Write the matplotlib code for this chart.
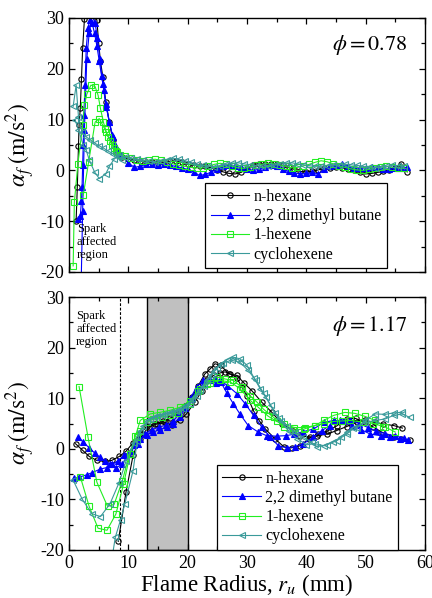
import matplotlib
matplotlib.use("Agg")
import matplotlib.pyplot as plt
from matplotlib.ticker import MultipleLocator

plt.rcParams["font.family"] = ["Liberation Serif", "DejaVu Serif"]
plt.rcParams["mathtext.fontset"] = "stix"
plt.rcParams["axes.unicode_minus"] = False

fuels = ["n-hexane", "2,2 dimethyl butane", "1-hexene", "cyclohexene"]
colors = ["black", "#0000ff", "#22ee22", "#3a9a9a"]
markers = ["o", "^", "s", "<"]
faces = ["none", "#0000ff", "none", "none"]

# ---- phi = 0.78 (top) ----
top_r_tail = [9, 10, 11, 12, 13, 14, 15, 16, 17, 18, 19, 20, 21, 22, 23, 24, 25, 26, 27, 28,
              29, 30, 31, 32, 33, 34, 35, 36, 37, 38, 39, 40, 41, 42, 43, 44, 45, 46, 47, 48,
              49, 50, 51, 52, 53, 54, 55, 56, 57]
top_r_tail_b = [9.5, 10.5, 11.5, 12.5, 13.5, 14.5, 15.5, 16.5, 17.5, 18.5, 19.5, 20.5, 21.5,
                22.5, 23.5, 24.5, 25.5, 26.5, 27.5, 28.5, 29.5, 30.5, 31.5, 32.5, 33.5, 34.5,
                35.5, 36.5, 37.5, 38.5, 39.5, 40.5, 41.5, 42.5, 43.5, 44.5, 45.5, 46.5, 47.5,
                48.5, 49.5, 50.5, 51.5, 52.5, 53.5, 54.5, 55.5, 56.5]

hex_top_r0 = [1.2, 1.4, 1.6, 1.7, 1.9, 2.1, 2.3, 2.6, 3.0, 3.4, 3.8, 4.3, 4.7, 5.0, 5.3, 5.7,
              6.2, 6.8, 7.4, 8.0, 8.5]
hex_top_a0 = [-9.9, -3.3, 4.9, 8.9, 12.2, 18.0, 24.0, 29.8, 33.0, 35.0, 33.0, 30.5, 29.6, 25.0,
              21.5, 18.4, 13.5, 9.5, 5.9, 4.0, 3.0]
hex_top_tail = [2.6, 2.2, 2.0, 1.8, 1.7, 1.6, 1.5, 1.6, 1.8, 1.9, 1.6, 1.2, 1.0, 0.9, 0.8, 0.5,
                0.1, -0.3, -0.6, -0.7, -0.4, 0.3, 1.0, 1.3, 1.2, 1.3, 1.3, 1.0, 0.6, 0.2, -0.2,
                -0.3, -0.2, 0.1, 0.4, 0.5, 0.6, 0.5, 0.3, 0.0, -0.4, -0.7, -0.6, -0.4, -0.2,
                0.0, 0.4, 1.3, -0.3]

dmb_top_r0 = [1.5, 1.9, 2.1, 2.2, 2.3, 2.4, 2.5, 2.7, 2.9, 3.2, 3.5, 3.9, 4.3, 4.7, 5.1, 5.5,
              5.9, 6.3, 6.8, 7.3, 7.8, 8.4]
dmb_top_a0 = [-9.6, -9.0, -6.0, -3.3, 1.0, 5.0, 10.9, 16.8, 24.0, 28.0, 29.7, 29.0, 27.0, 24.5,
              21.5, 18.5, 15.8, 12.5, 9.5, 7.0, 5.0, 3.5]
dmb_top_tail = [2.8, 1.5, 0.6, 0.8, 1.2, 1.2, 1.0, 1.2, 1.0, 0.8, 0.5, 0.2, -0.3, -1.0, -0.8,
                -0.3, 0.3, 0.8, 1.0, 0.8, 0.6, 0.3, 0.0, 0.2, 0.6, 1.0, 0.8, 0.3, -0.2, -0.5,
                -0.7, -0.6, -0.4, -0.7, 0.2, 0.8, 1.0, 1.3, 0.8, 0.5, 0.4, 0.5, 0.7, 0.6, 0.3,
                0.2, 0.4, 0.5, 0.6]
dmb_top_r1 = [2.0, 2.3, 2.6, 3.0, 3.4, 3.9, 4.4, 4.8, 5.2, 5.7, 6.2, 6.8, 7.4, 8.0]
dmb_top_a1 = [-25.0, -8.0, 8.0, 22.0, 27.0, 30.5, 29.0, 26.0, 22.0, 17.0, 13.0, 9.5, 6.5, 4.5]

hxe_top_r0 = [0.7, 0.9, 1.5, 2.3, 2.6, 3.0, 3.7, 4.4, 4.9, 5.3, 5.8, 6.3, 6.9, 7.5, 8.1, 8.6]
hxe_top_a0 = [-18.8, -6.3, 1.3, 8.9, 12.8, 15.0, 16.8, 16.5, 14.8, 12.2, 9.5, 7.5, 5.8, 4.5,
              3.6, 3.0]
hxe_top_tail = [2.8, 2.4, 2.0, 1.8, 2.0, 2.2, 2.0, 1.6, 1.3, 1.0, 0.8, 0.6, 0.5, 0.5, 0.8, 1.2,
                1.4, 1.2, 0.8, 0.5, 0.4, 0.7, 1.0, 1.2, 1.4, 1.3, 1.1, 0.8, 0.5, 0.6, 0.9, 1.2,
                1.6, 1.9, 1.7, 1.3, 0.9, 0.6, 0.3, 0.1, 0.0, 0.2, 0.5, 0.7, 0.8, 0.6, 0.5, 0.4]
hxe_top_r1 = [2.4, 3.3, 4.4, 5.1, 6.0, 6.6, 7.3, 8.0]
hxe_top_a1 = [-4.9, 1.6, 9.5, 10.2, 8.2, 6.6, 5.0, 3.8]

cyc_top_r0 = [0.7, 1.2, 1.6, 2.2, 2.9, 3.6, 4.3, 5.0, 5.8, 6.6, 7.4, 8.2, 8.9]
cyc_top_a0 = [12.6, 16.8, 10.5, 7.5, 6.6, 6.0, 5.4, 4.9, 4.4, 3.8, 3.3, 2.7, 2.1]
cyc_top_tail = [2.6, 2.4, 2.2, 2.0, 1.8, 1.6, 1.8, 2.0, 2.4, 2.2, 1.9, 1.6, 1.2, 1.0, 0.8, 0.7,
                0.9, 1.2, 1.4, 1.5, 1.3, 1.1, 0.9, 0.8, 0.9, 1.0, 1.2, 1.4, 1.5, 1.3, 1.1, 0.9,
                0.8, 0.8, 0.9, 1.0, 1.1, 1.2, 1.1, 1.0, 0.8, 0.6, 0.5, 0.6, 0.8, 1.0, 0.9, 0.8]
cyc_top_r1 = [1.0, 1.6, 2.4, 2.9, 3.4, 4.3, 5.1, 6.2, 6.8, 7.6, 8.4]
cyc_top_a1 = [10.0, 8.0, 5.0, 4.0, 2.1, -0.3, -1.6, -0.7, 0.8, 2.2, 3.0]

# ---- phi = 1.17 (bottom) ----
hex_bot_r0 = [1.1, 2.3, 3.4, 4.7, 6.0, 7.2, 8.5, 9.6, 10.8, 12.0, 13.2, 14.5, 15.8, 17.0, 18.3,
              19.5, 20.7, 21.8, 22.9, 23.8, 24.6, 25.6, 26.9, 28.3, 29.5, 30.8, 32.5, 34.2,
              35.9, 37.8, 39.0, 40.6, 41.8, 43.5, 45.1, 46.8, 48.5, 49.9, 51.6, 53.0, 54.7, 56.2]
hex_bot_a0 = [1.0, -0.3, -1.5, -2.3, -2.5, -2.3, -1.5, -0.5, 1.2, 3.0, 4.5, 5.0, 5.4, 6.0, 7.0,
              8.5, 10.2, 12.5, 14.8, 15.8, 16.8, 16.5, 14.8, 14.5, 13.0, 11.5, 9.2, 7.2, 4.9,
              3.6, 2.6, 2.3, 2.6, 2.9, 3.6, 4.4, 5.2, 5.6, 5.2, 4.9, 4.6, 4.1]
hex_bot_r1 = [8.3, 9.6, 10.8, 11.9, 13.4, 14.8, 16.2, 17.3, 18.7, 19.8, 21.2, 22.4, 23.3, 24.5,
              25.5, 26.3, 27.2, 28.3, 29.2, 30.0, 31.1, 32.1, 33.1, 34.7, 36.2, 37.5, 39.0,
              40.4, 42.0, 43.7, 45.1, 46.8, 48.3, 49.9, 51.3, 52.7, 54.7, 56.0, 57.5]
hex_bot_a1 = [-18.3, -8.6, -1.3, 2.0, 4.3, 4.9, 5.2, 4.7, 5.7, 6.9, 9.2, 11.5, 13.6, 14.6, 15.0,
              15.2, 14.8, 14.0, 12.0, 10.5, 7.5, 5.5, 3.9, 2.0, 0.4, 0.2, 0.6, 2.0, 2.9, 3.6,
              4.5, 5.9, 6.0, 5.2, 4.3, 3.3, 2.3, 1.9, 1.8]

dmb_bot_r0 = [1.6, 2.4, 3.4, 4.3, 5.2, 6.1, 6.9, 8.0, 9.0, 10.0, 11.0, 12.0, 13.1, 14.2, 15.3,
              16.5, 17.6, 18.7, 19.6, 20.4, 21.5, 22.6, 23.8, 24.8, 25.6, 26.6, 27.7, 28.8,
              30.2, 31.9, 33.3, 35.0, 36.6, 38.0, 39.5, 41.2, 42.9, 44.6, 46.2, 47.7, 49.2,
              50.8, 52.5, 54.1, 55.8, 57.2]
dmb_bot_a0 = [2.3, 1.3, 0.2, -0.8, -1.7, -2.4, -3.0, -3.7, -3.0, -1.0, 0.8, 2.0, 2.8, 3.3, 3.8,
              4.3, 5.0, 6.2, 8.0, 9.9, 12.2, 13.5, 13.6, 13.0, 13.2, 11.0, 8.9, 6.9, 4.6, 3.3,
              2.6, 2.5, 2.6, 2.9, 3.4, 3.9, 5.2, 5.6, 5.4, 4.6, 3.8, 2.9, 2.6, 2.3, 2.0, 1.8]
dmb_bot_r1 = [0.9, 1.7, 3.1, 3.9, 5.3, 6.4, 7.3, 8.2, 9.3, 10.5, 11.6, 12.8, 14.0, 15.2, 16.4,
              17.6, 18.6, 19.6, 20.6, 21.6, 22.6, 23.6, 24.6, 25.5, 26.7, 28.3, 29.7, 31.1,
              32.5, 33.9, 35.3, 36.7, 38.1, 39.5, 41.2, 42.6, 44.0, 45.7, 47.4, 48.9, 50.4,
              51.8, 53.3, 55.0, 56.4]
dmb_bot_a1 = [-5.8, -5.6, -5.1, -4.7, -4.0, -3.7, -3.1, -2.4, -1.3, -0.4, 1.0, 3.0, 3.8, 4.3,
              4.7, 5.5, 7.0, 8.5, 10.0, 11.5, 12.8, 13.5, 13.8, 13.5, 12.5, 10.9, 8.9, 6.6, 4.3,
              2.3, 0.6, 0.2, 0.4, 1.0, 2.3, 3.6, 4.6, 5.6, 5.6, 5.0, 4.2, 3.5, 3.0, 2.5, 2.2]

hxe_bot_r0 = [1.7, 3.2, 4.7, 6.5, 7.6, 9.0, 10.2, 11.2, 12.0, 13.7, 15.3, 17.0, 18.7, 20.4,
              21.8, 23.2, 24.9, 26.3, 27.7, 29.1, 30.5, 31.7, 32.8, 34.5, 36.2, 37.8, 39.6,
              41.5, 42.9, 44.6, 46.5, 48.2, 49.9, 51.6, 53.3, 55.0]
hxe_bot_a0 = [12.3, 2.3, -6.6, -11.4, -11.0, -6.3, -1.0, 2.5, 5.6, 6.9, 7.2, 7.6, 8.2, 9.5,
              11.5, 12.8, 14.2, 13.8, 13.5, 12.2, 10.5, 9.2, 7.8, 6.2, 4.3, 3.7, 3.9, 4.6, 5.6,
              6.6, 7.2, 7.0, 6.4, 5.6, 4.3, 3.3]
hxe_bot_r1 = [1.9, 3.4, 4.9, 6.4, 7.9, 9.2, 10.3, 11.4, 12.0, 13.1, 14.2, 15.6, 17.0, 18.4,
              20.4, 22.1, 23.8, 25.5, 27.2, 28.8, 30.5, 31.9, 33.5, 35.0, 36.2, 38.0, 39.7,
              41.5, 43.0, 44.6, 46.0, 47.4, 49.5, 51.3, 53.0]
hxe_bot_a1 = [-5.5, -11.4, -15.7, -16.1, -12.9, -7.0, -1.0, 2.3, 3.6, 5.2, 5.9, 6.3, 6.6, 7.0,
              8.9, 11.9, 13.0, 13.5, 13.2, 11.9, 9.6, 8.2, 6.5, 5.4, 4.9, 4.2, 4.2, 4.6, 5.0,
              5.4, 5.5, 5.6, 5.3, 5.0, 4.4]

cyc_bot_r0 = [0.7, 2.2, 3.8, 5.3, 6.9, 8.4, 9.6, 10.9, 12.0, 13.2, 14.4, 15.6, 16.8, 18.0, 19.2,
              20.4, 21.6, 22.8, 24.0, 25.0, 26.0, 27.4, 28.8, 30.2, 31.5, 32.8, 34.0, 35.4,
              36.7, 38.1, 39.5, 40.9, 41.8, 43.5, 45.1, 46.8, 47.9, 49.9, 51.6, 53.3, 54.7,
              56.2, 57.4]
cyc_bot_a0 = [-6.2, -9.9, -12.8, -13.4, -10.9, -6.8, -2.5, 1.2, 3.5, 5.5, 6.2, 6.6, 7.0, 7.4,
              7.8, 8.8, 10.5, 12.5, 14.5, 16.0, 17.0, 17.5, 17.1, 15.5, 13.5, 11.0, 8.6, 6.0,
              4.6, 3.3, 2.3, 1.3, 0.4, 0.8, 1.6, 2.9, 4.2, 5.2, 5.6, 5.9, 6.6, 6.9, 6.2]
cyc_bot_r1 = [7.2, 7.8, 8.7, 9.4, 10.8, 11.5, 12.5, 13.6, 14.8, 16.0, 17.2, 18.4, 19.6, 20.8,
              22.0, 23.2, 24.4, 25.6, 26.6, 27.6, 28.8, 30.0, 31.2, 32.2, 33.2, 34.7, 35.8,
              37.0, 38.5, 40.0, 41.5, 43.0, 44.5, 45.8, 46.8, 48.5, 49.9, 51.6, 53.3, 54.7, 56.1]
cyc_bot_a1 = [-22.0, -17.5, -14.0, -10.9, -4.3, 1.6, 4.5, 5.8, 6.4, 6.8, 7.2, 7.6, 8.4, 9.8,
              11.6, 13.6, 15.4, 16.8, 17.6, 18.1, 17.8, 16.5, 14.0, 11.9, 10.2, 7.0, 5.4, 3.5,
              2.0, 0.8, 1.0, 0.6, 1.4, 2.3, 3.3, 4.1, 5.6, 6.9, 6.8, 7.1, 7.2]

top_runs = [
    [(hex_top_r0 + top_r_tail, hex_top_a0 + hex_top_tail)],
    [(dmb_top_r0 + top_r_tail, dmb_top_a0 + dmb_top_tail), (dmb_top_r1, dmb_top_a1)],
    [(hxe_top_r0 + top_r_tail_b, hxe_top_a0 + hxe_top_tail), (hxe_top_r1, hxe_top_a1)],
    [(cyc_top_r0 + top_r_tail_b, cyc_top_a0 + cyc_top_tail), (cyc_top_r1, cyc_top_a1)],
]
bot_runs = [
    [(hex_bot_r0, hex_bot_a0), (hex_bot_r1, hex_bot_a1)],
    [(dmb_bot_r0, dmb_bot_a0), (dmb_bot_r1, dmb_bot_a1)],
    [(hxe_bot_r0, hxe_bot_a0), (hxe_bot_r1, hxe_bot_a1)],
    [(cyc_bot_r0, cyc_bot_a0), (cyc_bot_r1, cyc_bot_a1)],
]

fig = plt.figure(figsize=(4.32, 5.98), dpi=100)
ax1 = fig.add_axes([69 / 432, 1 - 272 / 598, 356 / 432, 254 / 598])
ax2 = fig.add_axes([69 / 432, 1 - 550 / 598, 356 / 432, 253 / 598])


def draw(ax, runs):
    for i, fuel_runs in enumerate(runs):
        for j, (r, a) in enumerate(fuel_runs):
            ax.plot(r, a, color=colors[i], marker=markers[i], mfc=faces[i],
                    mec=colors[i], ms=3.8, mew=0.8, lw=0.8,
                    label=fuels[i] if j == 0 else None)


def style(ax):
    ax.set_xlim(0, 60)
    ax.set_ylim(-20, 30)
    ax.xaxis.set_major_locator(MultipleLocator(10))
    ax.xaxis.set_minor_locator(MultipleLocator(5))
    ax.yaxis.set_major_locator(MultipleLocator(10))
    ax.yaxis.set_minor_locator(MultipleLocator(5))
    ax.tick_params(which="both", direction="in", top=True, right=True, labelsize=13)
    ax.tick_params(which="major", length=4.5, width=0.9)
    ax.tick_params(which="minor", length=3, width=0.9)
    for s in ax.spines.values():
        s.set_linewidth(1.0)
    ax.set_ylabel(r"$\alpha_f\;(\mathrm{m/s^2})$", fontsize=17)
    ax.yaxis.set_label_coords(-0.09, 0.5)
    leg = ax.legend(loc="lower right", fontsize=11.5, frameon=True, fancybox=False,
                    edgecolor="black", framealpha=1, handlelength=2.4,
                    labelspacing=0.2, borderpad=0.35, handletextpad=0.3,
                    borderaxespad=0, numpoints=1)
    leg.get_frame().set_linewidth(0.9)
    return leg


# top panel
draw(ax1, top_runs)
leg1 = style(ax1)
leg1.set_bbox_to_anchor((0.892, 0.015), transform=ax1.transAxes)
ax1.tick_params(labelbottom=False)
ax1.text(0.95, 0.895, r"$\phi = 0.78$", transform=ax1.transAxes, ha="right",
         va="center", fontsize=16)
ax1.text(1.3, -10.3, "Spark\naffected\nregion", fontsize=9, ha="left", va="top",
         linespacing=1.1)

# bottom panel
ax2.axvspan(13.1, 20.0, facecolor="#c0c0c0", edgecolor="black", lw=1.0, zorder=0.5)
ax2.axvline(8.6, color="black", ls=(0, (2.5, 1.5)), lw=0.8)
draw(ax2, bot_runs)
leg2 = style(ax2)
leg2.set_bbox_to_anchor((0.925, 0.0), transform=ax2.transAxes)
ax2.text(0.95, 0.885, r"$\phi = 1.17$", transform=ax2.transAxes, ha="right",
         va="center", fontsize=16)
ax2.text(1.2, 27.4, "Spark\naffected\nregion", fontsize=9, ha="left", va="top",
         linespacing=1.1)

fig.text(0.572, 0.012, r"Flame Radius, $r_u$ (mm)", ha="center", va="baseline",
         fontsize=16.5)

fig.savefig("out.png", dpi=100)
